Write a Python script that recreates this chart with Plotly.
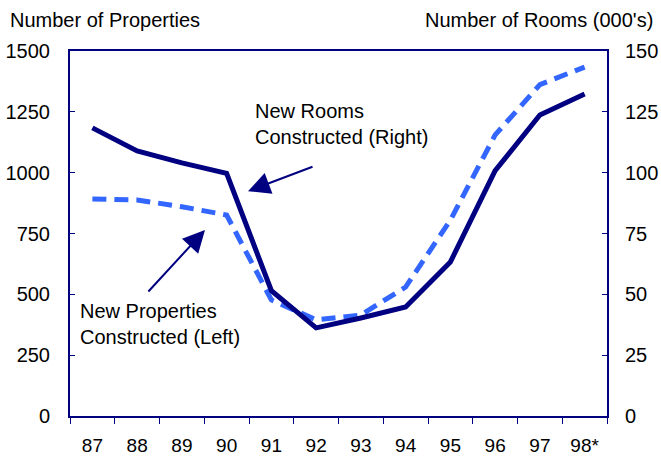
import plotly.graph_objects as go

years = ["87", "88", "89", "90", "91", "92", "93", "94", "95", "96", "97", "98*"]
properties = [892, 888, 860, 826, 477, 395, 415, 530, 805, 1155, 1362, 1434]
rooms = [118.4, 108.9, 104.0, 99.7, 51.5, 36.2, 40.3, 44.8, 63.3, 100.8, 123.7, 132.3]

navy = "#000080"
blue = "#3366FF"
fnt = dict(family="Liberation Sans, Arial, sans-serif", size=20, color="black")

fig = go.Figure()
fig.add_trace(go.Scatter(x=years, y=properties, mode="lines", name="New Properties",
                         line=dict(color=blue, width=5, dash="14px,8px")))
fig.add_trace(go.Scatter(x=years, y=rooms, mode="lines", name="New Rooms", yaxis="y2",
                         line=dict(color=navy, width=5)))

fig.update_layout(
    width=661, height=457,
    margin=dict(l=70, r=54, t=51, b=41),
    paper_bgcolor="white", plot_bgcolor="white",
    showlegend=False, font=fnt,
    xaxis=dict(type="category", range=[-0.5, 11.5], showline=True, linecolor=navy,
               linewidth=2, mirror=True, ticks="outside", tickson="boundaries", ticklen=6,
               tickcolor=navy, showgrid=False, ticklabelstandoff=11, tickangle=0,
               tickfont=dict(size=19), automargin=False),
    yaxis=dict(range=[0, 1500], dtick=250, showline=True, linecolor=navy, linewidth=2,
               ticks="inside", ticklen=5, tickcolor=navy, showgrid=False, zeroline=False,
               ticklabelstandoff=14, automargin=False),
    yaxis2=dict(range=[0, 150], dtick=25, overlaying="y", side="right", showline=True,
                linecolor=navy, linewidth=2, ticks="inside", ticklen=5, tickcolor=navy,
                showgrid=False, zeroline=False, ticklabelstandoff=12, automargin=False),
)

# axis titles
fig.add_annotation(text="Number of Properties", xref="paper", yref="paper", x=-0.1155, y=1.085,
                   xanchor="left", yanchor="middle", showarrow=False, font=fnt)
fig.add_annotation(text="Number of Rooms (000's)", xref="paper", yref="paper", x=1.0894, y=1.085,
                   xanchor="right", yanchor="middle", showarrow=False, font=fnt)

# callout texts
fig.add_annotation(text="New Rooms<br>Constructed (Right)", x=0.341, y=0.80,
                   xref="paper", yref="paper", xanchor="left", yanchor="middle",
                   showarrow=False, font=fnt, align="left")
fig.add_annotation(text="New Properties<br>Constructed (Left)", x=0.015, y=0.252,
                   xref="paper", yref="paper", xanchor="left", yanchor="middle",
                   showarrow=False, font=fnt, align="left")

# callout arrows
fig.add_annotation(x=0.3315, y=0.616, xref="paper", yref="paper", ax=66, ay=-25,
                   text="", showarrow=True, arrowhead=2, arrowsize=2.2, arrowwidth=2,
                   arrowcolor=navy, standoff=0)
fig.add_annotation(x=0.2514, y=0.5096, xref="paper", yref="paper", ax=-58, ay=63,
                   text="", showarrow=True, arrowhead=2, arrowsize=2.2, arrowwidth=2,
                   arrowcolor=navy, standoff=0)

# page has a default 8px body margin; drop it so the figure fills the window
fig.write_html("out.html", config={"displayModeBar": False},
               post_script="document.body.style.margin='0';")
